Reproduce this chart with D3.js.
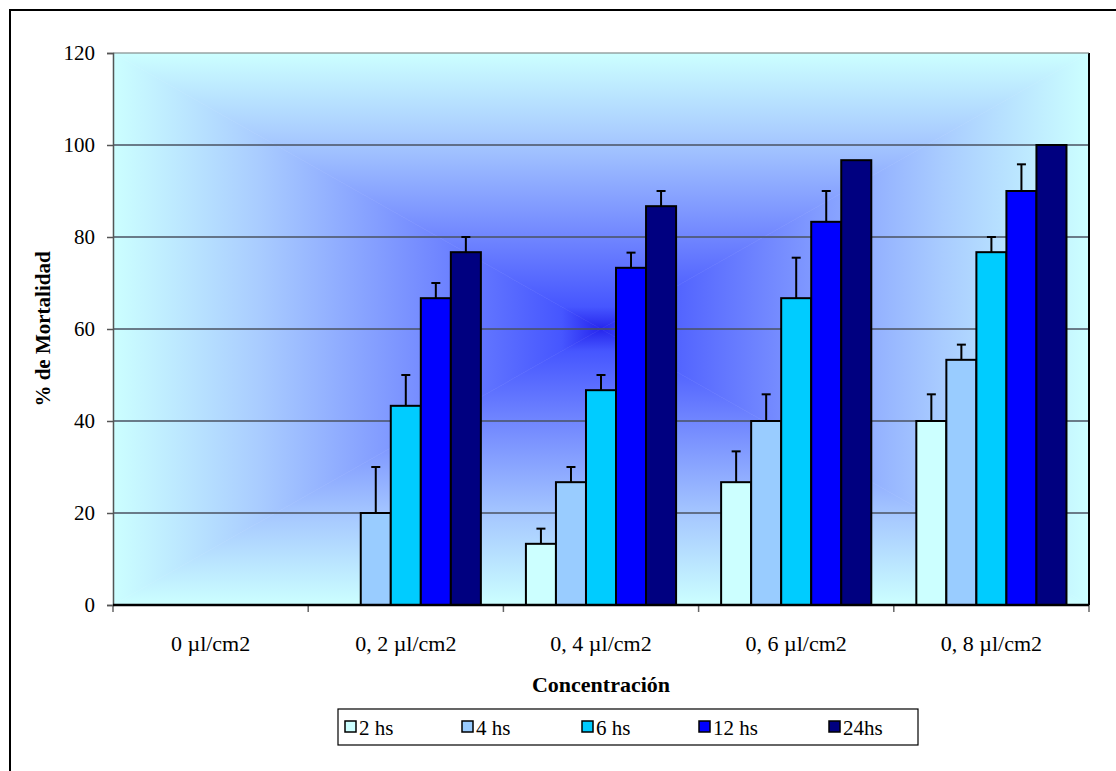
<!DOCTYPE html>
<html><head><meta charset="utf-8">
<script src="https://cdn.jsdelivr.net/npm/d3@7"></script>
<style>body{margin:0;background:#fff}svg{display:block}</style>
</head><body>
<svg id="c" width="1116" height="771"></svg>
<script>
const categories = ["0 µl/cm2", "0, 2 µl/cm2", "0, 4 µl/cm2", "0, 6 µl/cm2", "0, 8 µl/cm2"];
const seriesNames = ["2 hs", "4 hs", "6 hs", "12 hs", "24hs"];
const seriesColors = ["#CCFFFF", "#99CCFF", "#00CCFF", "#0000FF", "#000080"];
const values = [
  [0, 0, 13.3, 26.7, 40],      // 2 hs
  [0, 20, 26.7, 40, 53.3],     // 4 hs
  [0, 43.3, 46.7, 66.7, 76.7], // 6 hs
  [0, 66.7, 73.3, 83.3, 90],   // 12 hs
  [0, 76.7, 86.7, 96.7, 100]   // 24hs
];
const errors = [
  [0, 0, 3.3, 6.7, 5.8],
  [0, 10, 3.3, 5.8, 3.3],
  [0, 6.7, 3.3, 8.8, 3.3],
  [0, 3.3, 3.3, 6.7, 5.8],
  [0, 3.3, 3.3, 0, 0]
];
const yTicks = [0, 20, 40, 60, 80, 100, 120];

const svg = d3.select("#c");
const L = 113, R = 1089, T = 53, B = 605;
const cx = (L + R) / 2, cy = (T + B) / 2;
const FONT = "'Liberation Serif','Times New Roman',serif";

// outer border
svg.append("rect").attr("x", 10).attr("y", 10).attr("width", 1300).attr("height", 900)
  .attr("fill", "none").attr("stroke", "#000").attr("stroke-width", 2);

// rectangular "from center" gradient background
const defs = svg.append("defs");
const stops = [[0, "#2626ee"], [0.08, "#4656ff"], [0.35, "#7389ff"], [0.7, "#a9ccff"], [1, "#ccffff"]];
function grad(id, x1, y1, x2, y2) {
  const g = defs.append("linearGradient").attr("id", id).attr("gradientUnits", "userSpaceOnUse")
    .attr("x1", x1).attr("y1", y1).attr("x2", x2).attr("y2", y2);
  stops.forEach(s => g.append("stop").attr("offset", s[0]).attr("stop-color", s[1]));
}
grad("gT", cx, cy, cx, T); grad("gB", cx, cy, cx, B);
grad("gL", cx, cy, L, cy); grad("gR", cx, cy, R, cy);
const bg = svg.append("g");
const tri = (pts, id) => bg.append("polygon").attr("points", pts.map(p => p.join(",")).join(" "))
  .attr("fill", `url(#${id})`).attr("stroke", `url(#${id})`).attr("stroke-width", 0.6);
tri([[L, T], [R, T], [cx, cy]], "gT");
tri([[L, B], [R, B], [cx, cy]], "gB");
tri([[L, T], [L, B], [cx, cy]], "gL");
tri([[R, T], [R, B], [cx, cy]], "gR");

// scales
const y = d3.scaleLinear().domain([0, 120]).range([B, T]);
const x0 = d3.scaleBand().domain(categories).range([L, R]).paddingInner(0).paddingOuter(0);
const x1 = d3.scaleBand().domain(seriesNames).range([0, x0.bandwidth()]).paddingInner(0).paddingOuter(0.75);

// gridlines
svg.append("g").selectAll("line").data(yTicks.filter(t => t > 0 && t < 120)).join("line")
  .attr("x1", L).attr("x2", R).attr("y1", d => y(d)).attr("y2", d => y(d))
  .attr("stroke", "#4a5262").attr("stroke-width", 1.6);

// bars
const bars = svg.append("g");
seriesNames.forEach((s, si) => {
  categories.forEach((c, ci) => {
    const v = values[si][ci];
    if (v <= 0) return;
    const bx = x0(c) + x1(s);
    bars.append("rect").attr("x", bx).attr("y", y(v)).attr("width", x1.bandwidth()).attr("height", y(0) - y(v))
      .attr("fill", seriesColors[si]).attr("stroke", "#000").attr("stroke-width", 2);
  });
});
// error bars
const eb = svg.append("g").attr("stroke", "#000").attr("stroke-width", 2);
seriesNames.forEach((s, si) => {
  categories.forEach((c, ci) => {
    const v = values[si][ci], e = errors[si][ci];
    if (v <= 0 || e <= 0) return;
    const mx = x0(c) + x1(s) + x1.bandwidth() / 2;
    eb.append("line").attr("x1", mx).attr("x2", mx).attr("y1", y(v)).attr("y2", y(v + e));
    eb.append("line").attr("x1", mx - 4.5).attr("x2", mx + 4.5).attr("y1", y(v + e)).attr("y2", y(v + e));
  });
});

// right edge line
svg.append("line").attr("x1", R).attr("x2", R).attr("y1", T).attr("y2", B).attr("stroke", "#000").attr("stroke-width", 2);
// top edge
svg.append("line").attr("x1", L).attr("x2", R).attr("y1", T).attr("y2", T).attr("stroke", "#777").attr("stroke-width", 1);

// y axis
const yAxis = svg.append("g").attr("transform", `translate(${L},0)`)
  .call(d3.axisLeft(y).tickValues(yTicks).tickSize(6).tickPadding(12));
yAxis.select(".domain").attr("stroke", "#555").attr("stroke-width", 1.5);
yAxis.selectAll(".tick line").attr("stroke", "#555").attr("stroke-width", 1.5);
yAxis.selectAll("text").attr("font-family", FONT).attr("font-size", 21).attr("fill", "#000");

// x axis
const xAxis = svg.append("g").attr("transform", `translate(0,${B})`)
  .call(d3.axisBottom(x0).tickSize(0).tickPadding(30));
xAxis.select(".domain").remove();
xAxis.selectAll("text").attr("font-family", FONT).attr("font-size", 22).attr("fill", "#000");
svg.append("g").selectAll("line").data(d3.range(categories.length + 1)).join("line")
  .attr("x1", i => L + i * x0.step()).attr("x2", i => L + i * x0.step())
  .attr("y1", B).attr("y2", B + 7).attr("stroke", "#666").attr("stroke-width", 1.5);
svg.append("line").attr("x1", L).attr("x2", R).attr("y1", B).attr("y2", B).attr("stroke", "#000").attr("stroke-width", 2.5);

// titles
svg.append("text").attr("x", cx).attr("y", 692).attr("text-anchor", "middle")
  .attr("font-family", FONT).attr("font-size", 22).attr("font-weight", "bold").text("Concentración");
svg.append("text").attr("transform", `translate(50,${cy}) rotate(-90)`).attr("text-anchor", "middle")
  .attr("font-family", FONT).attr("font-size", 21).attr("font-weight", "bold").text("% de Mortalidad");

// legend
const lg = svg.append("g");
lg.append("rect").attr("x", 338).attr("y", 709).attr("width", 580).attr("height", 36)
  .attr("fill", "#fff").attr("stroke", "#000").attr("stroke-width", 1.2);
const legX = [345, 462, 582, 699, 829];
seriesNames.forEach((s, i) => {
  lg.append("rect").attr("x", legX[i]).attr("y", 721).attr("width", 11).attr("height", 11)
    .attr("fill", seriesColors[i]).attr("stroke", "#000").attr("stroke-width", 1.5);
  lg.append("text").attr("x", legX[i] + 14).attr("y", 735).attr("font-family", FONT).attr("font-size", 21).text(s);
});
</script>
</body></html>
